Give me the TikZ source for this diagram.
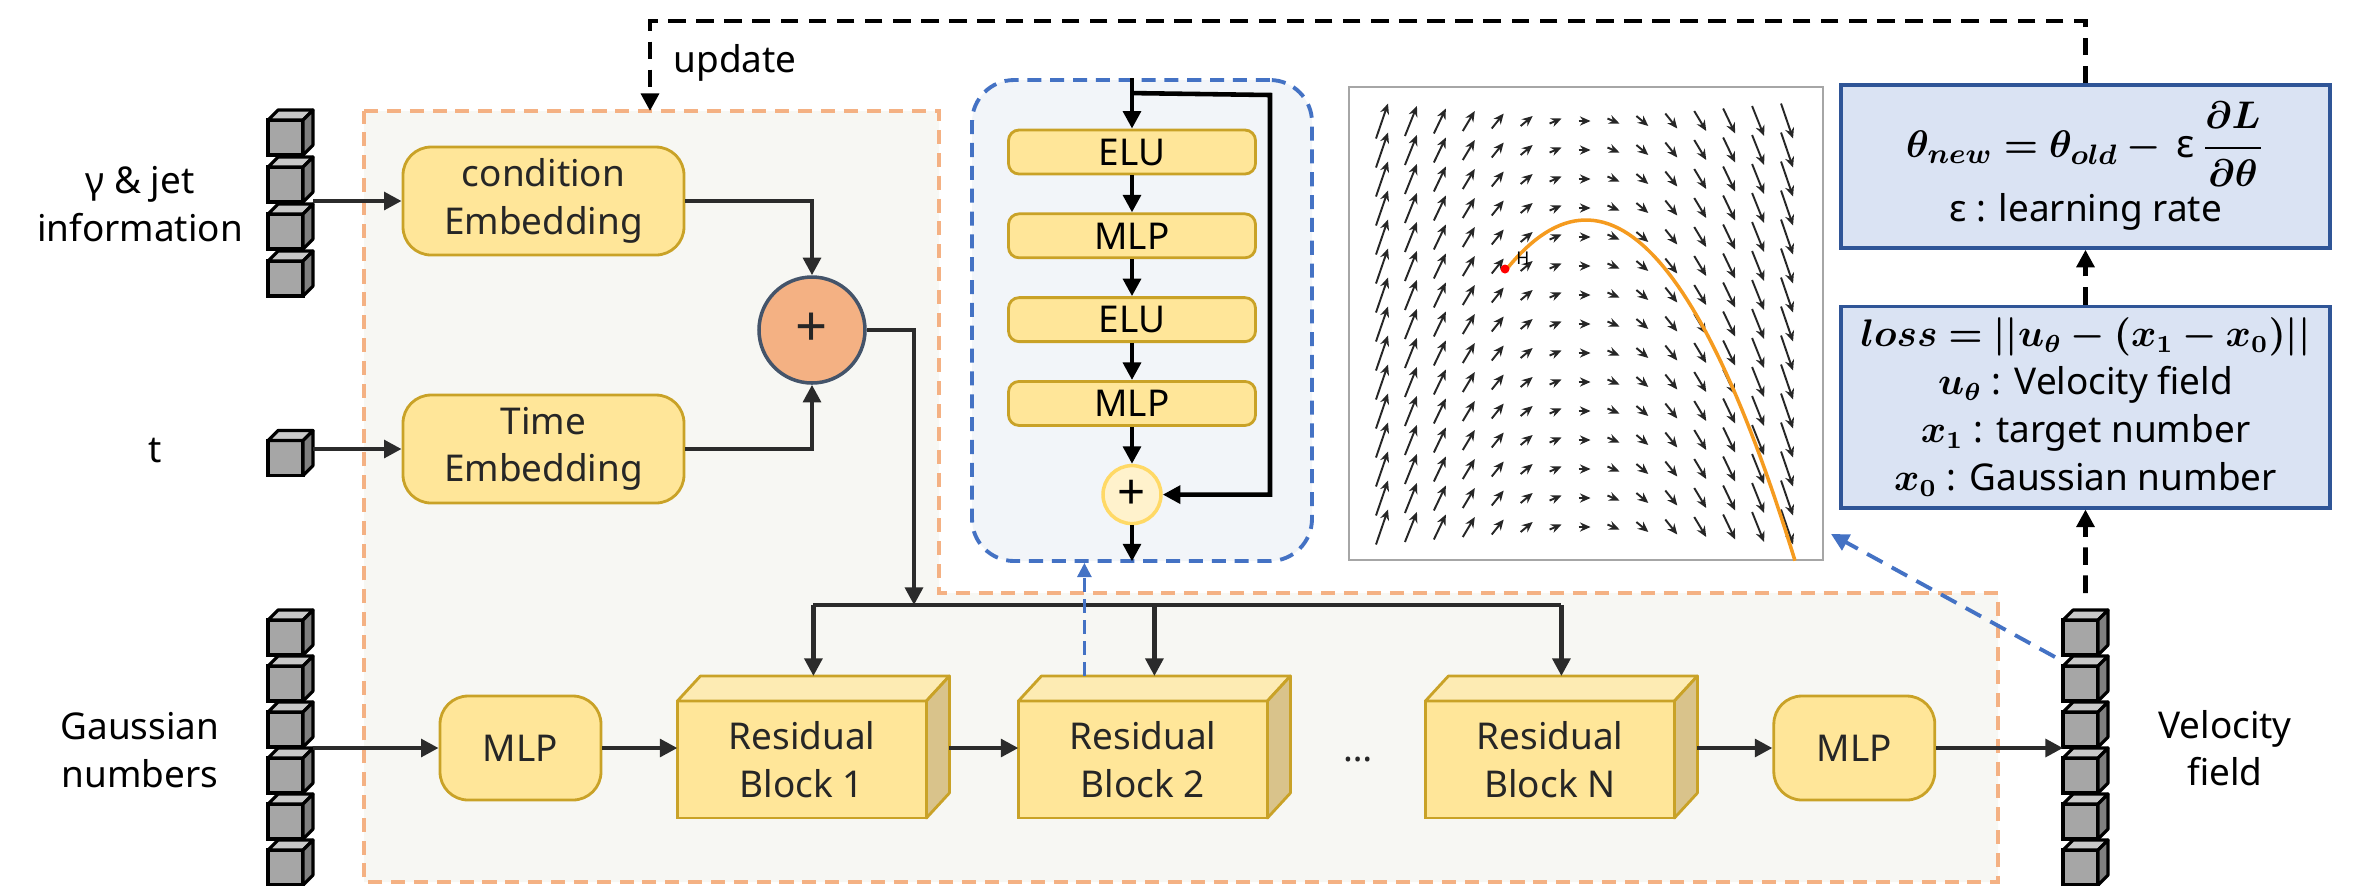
\documentclass[tikz,border=0pt]{standalone}
\usepackage{fontspec}
\setmainfont{Noto Sans}
\usepackage{amsmath,bm}
\usetikzlibrary{arrows.meta,positioning,calc}
\definecolor{regfill}{HTML}{F7F7F3}
\definecolor{regline}{HTML}{F4B183}
\definecolor{ylwfill}{HTML}{FFE699}
\definecolor{ylwtop}{HTML}{FDEBB3}
\definecolor{ylwside}{HTML}{D9C38B}
\definecolor{ylwline}{HTML}{C9A227}
\definecolor{sumfill}{HTML}{F4B183}
\definecolor{sumline}{HTML}{44546A}
\definecolor{addfill}{HTML}{FFF2CC}
\definecolor{addline}{HTML}{FFD966}
\definecolor{resblue}{HTML}{4472C4}
\definecolor{resbg}{HTML}{F2F5F9}
\definecolor{optfill}{HTML}{DAE3F3}
\definecolor{optline}{HTML}{2F5597}
\definecolor{cubeF}{HTML}{A6A6A6}
\definecolor{cubeT}{HTML}{C9C9C9}
\definecolor{cubeS}{HTML}{808080}
\definecolor{linedark}{HTML}{2B2B2B}
\definecolor{txtdark}{HTML}{262626}
\definecolor{trajorange}{HTML}{F59B1F}
\newcommand{\dfont}{\fontsize{10.5}{13.5}\selectfont}
% lid and flank of a box-like node
\newcommand{\extrude}[5]{%
  \draw[#4] (#1.north west) -- ++(#2,#3) -- ($(#1.north east)+(#2,#3)$) -- (#1.north east) -- cycle;
  \draw[#5] (#1.north east) -- ++(#2,#3) -- ($(#1.south east)+(#2,#3)$) -- (#1.south east) -- cycle;
}
\tikzset{
  region/.style={draw=regline, fill=regfill, line width=0.9pt, dash pattern=on 4pt off 2.5pt},
  cube/.style={rectangle, draw=black, fill=cubeF, line width=0.9pt, minimum width=0.35cm,
               minimum height=0.35cm, inner sep=0pt, outer sep=0pt},
  cubelid/.style={draw=black, fill=cubeT, line width=0.9pt, line join=round},
  cubeflank/.style={draw=black, fill=cubeS, line width=0.9pt, line join=round},
  embed/.style={rectangle, rounded corners=8pt, draw=ylwline, fill=ylwfill, line width=0.8pt,
                minimum width=2.81cm, minimum height=1.08cm, align=center, font=\dfont, text=txtdark},
  mlpbox/.style={embed, minimum width=1.61cm, minimum height=1.04cm},
  resfront/.style={rectangle, draw=ylwline, fill=ylwfill, line width=0.8pt, minimum width=2.49cm,
                   minimum height=1.17cm, outer sep=0pt, align=center, font=\dfont, text=txtdark},
  reslid/.style={draw=ylwline, fill=ylwtop, line width=0.8pt, line join=round},
  resflank/.style={draw=ylwline, fill=ylwside, line width=0.8pt, line join=round},
  layer/.style={rectangle, rounded corners=3pt, draw=ylwline, fill=ylwfill, line width=0.8pt,
                minimum width=2.47cm, minimum height=0.44cm, inner sep=0pt, font=\dfont\bfseries},
  sumnode/.style={circle, draw=sumline, fill=sumfill, line width=1pt, minimum size=1.06cm,
                  inner sep=0pt, font=\fontsize{16}{16}\selectfont, text=txtdark},
  addnode/.style={circle, draw=addline, fill=addfill, line width=1pt, minimum size=0.58cm,
                  inner sep=0pt, font=\fontsize{14}{14}\selectfont\bfseries},
  mathbox/.style={rectangle, draw=optline, fill=optfill, line width=1pt, minimum width=4.89cm,
                  align=center, font=\dfont, text=black},
  lbl/.style={font=\dfont, align=center, text=black},
  arr/.style={-{Triangle[length=5pt,width=5pt]}, line width=1.2pt, draw=linedark},
  bus/.style={line width=1.2pt, draw=linedark},
  innerarr/.style={-{Triangle[length=5pt,width=5pt]}, line width=1.3pt, draw=black},
  updarr/.style={-{Triangle[length=5pt,width=5pt]}, line width=1.4pt, draw=black,
                 dash pattern=on 5pt off 3pt},
  linkarr/.style={-{Triangle[length=5pt,width=5pt]}, line width=1.1pt, draw=resblue,
                  dash pattern=on 5pt off 3pt},
  linkthin/.style={-{Triangle[length=4pt,width=4pt]}, line width=0.7pt, draw=resblue,
                   dash pattern=on 4pt off 2pt},
  quiv/.style={-{Stealth[length=3pt,width=2.6pt]}, line width=0.55pt, draw=black!85},
}
\begin{document}
\begin{tikzpicture}
  \useasboundingbox (0,0) rectangle (23.57,-8.85);
  % network region
  \draw[region] (3.64,-1.11) -- (9.39,-1.11) -- (9.39,-5.93) -- (19.98,-5.93)
    -- (19.98,-8.82) -- (3.64,-8.82) -- cycle;
  \coordinate (regtop) at (6.50,-1.11);

  % inputs
  \node[embed] (cond) at (5.435,-2.01) {condition\\Embedding};
  \node[embed] (time) at (5.435,-4.49) {Time\\Embedding};
  \node[sumnode] (sum) at (8.12,-3.30) {+};
  \node[lbl] (condlbl) at (1.40,-2.04) {γ \& jet\\information};
  \node[lbl] (tlbl) at (1.55,-4.51) {t};
  \node[lbl] (gausslbl) at (1.40,-7.50) {Gaussian\\numbers};
  \node[lbl] (vellbl) at (22.25,-7.48) {Velocity\\field};

  % main chain
  \node[mlpbox] (mlpin) at (5.205,-7.48) {MLP};
  \node[resfront, right=0.75cm of mlpin, yshift=-0.115cm] (res1) {Residual\\Block 1};
  \node[resfront, right=0.92cm of res1] (res2) {Residual\\Block 2};
  \node[resfront, right=1.58cm of res2] (resN) {Residual\\Block N};
  \node[lbl, text=txtdark] (gap) at ($(res2.east)!0.5!(resN.west)+(0.115,0)$) {\dots};
  \node[mlpbox, right=0.98cm of resN, yshift=0.115cm] (mlpout) {MLP};
  \foreach \r in {res1,res2,resN} {
    \extrude{\r}{0.23}{0.25}{reslid}{resflank}
    \coordinate (\r-top) at ($(\r.north)+(0.115,0.25)$);
  }

  % residual block detail
  \node[draw=resblue, fill=resbg, line width=1.1pt, dash pattern=on 4pt off 2.5pt,
        rounded corners=12pt, minimum width=3.40cm, minimum height=4.81cm] (resdetail) at (11.42,-3.205) {};
  \node[layer] (eluA) at (11.32,-1.52) {ELU};
  \node[layer, below=0.37cm of eluA] (mlpA) {MLP};
  \node[layer, below=0.37cm of mlpA] (eluB) {ELU};
  \node[layer, below=0.37cm of eluB] (mlpB) {MLP};
  \node[addnode, below=0.37cm of mlpB] (resadd) {+};
  \coordinate (skipstart) at ($(resdetail.north -| eluA)+(0,-0.15)$);
  \coordinate (skipturn) at (12.70,-0.95);
  \coordinate (resout) at ($(resadd.south)+(0,-0.36)$);
  \draw[innerarr] (resdetail.north -| eluA) -- (eluA.north);
  \draw[innerarr] (skipstart) -- (skipturn) |- (resadd.east);
  \foreach \a/\b in {eluA/mlpA, mlpA/eluB, eluB/mlpB, mlpB/resadd}
    \draw[innerarr] (\a) -- (\b);
  \draw[innerarr] (resadd.south) -- (resout);

  % flow field
  \node[draw=gray!70, fill=white, line width=0.6pt, minimum width=4.74cm,
        minimum height=4.73cm] (flowplot) at (15.86,-3.235) {};
  \begin{scope}
    \clip (flowplot.south west) rectangle (flowplot.north east);
    \foreach \i in {0,...,14}
      \foreach \j in {0,...,14} {
        \pgfmathsetmacro{\vy}{-0.05*(\i-7)}
        \draw[quiv] ({13.82+0.2893*\i-0.06},{-1.21-0.29*\j-\vy/2}) -- ++(0.12,\vy);
      }
    \draw[trajorange, line width=1pt, domain=15.06:17.95, samples=60]
      plot (\x,{-2.20-0.78*(\x-15.86)*(\x-15.86)});
  \end{scope}
  \fill[red] (15.05,-2.69) circle (0.045);
  \node[font=\fontsize{5}{5}\selectfont, inner sep=0pt] (hmark) at (15.23,-2.58) {H};

  % loss and update
  \node[mathbox, minimum height=1.63cm] (optbox) at (20.855,-1.665)
    {\fontsize{11}{12}\selectfont$\bm{\theta_{new} = \theta_{old} -}\,\text{ε}\,\bm{\dfrac{\partial L}{\partial \theta}}$\\[1pt]
     ε : learning rate};
  \node[mathbox, minimum height=1.94cm, font=\fontsize{10.5}{13.6}\selectfont] (lossbox) at (20.855,-4.07)
    {{\fontsize{10.5}{12}\selectfont$\bm{loss = ||u_\theta - (x_1 - x_0)||}$}\\
     $\bm{u_\theta}$ : Velocity field\\
     $\bm{x_1}$ : target number\\
     $\bm{x_0}$ : Gaussian number};

  % connections
  \draw[arr] (cond.east) -| (sum.north);
  \draw[arr] (time.east) -| (sum.south);
  \coordinate (busjoin) at (9.14,-6.05);
  \draw[arr] (sum.east) -| (busjoin);
  \draw[bus] (res1-top |- busjoin) -- (resN-top |- busjoin);
  \foreach \r in {res1,res2,resN}
    \draw[arr] (\r-top |- busjoin) -- (\r-top);
  \draw[arr] (mlpin) -- (mlpin.east -| res1.west);
  \draw[arr] (mlpin.east -| res1.east) ++(0.23,0) -- (mlpin.east -| res2.west);
  \draw[arr] (mlpout.west -| resN.east) ++(0.23,0) -- (mlpout.west);

  % data columns
  \foreach \i in {0,...,3} {
    \node[cube] (c\i) at (2.855,{-1.375-0.47*\i}) {};
    \extrude{c\i}{0.10}{0.10}{cubelid}{cubeflank}
  }
  \node[cube] (tc) at (2.855,-4.58) {};
  \extrude{tc}{0.10}{0.10}{cubelid}{cubeflank}
  \foreach \i in {0,...,5} {
    \node[cube] (g\i) at (2.855,{-6.375-0.46*\i}) {};
    \extrude{g\i}{0.10}{0.10}{cubelid}{cubeflank}
    \node[cube] (v\i) at (20.805,{-6.375-0.46*\i}) {};
    \extrude{v\i}{0.10}{0.10}{cubelid}{cubeflank}
  }
  \draw[arr] (cond.west -| c1.east) ++(0.10,0) -- (cond.west);
  \draw[arr] (time.west -| tc.east) ++(0.10,0) -- (time.west);
  \draw[arr] (mlpin.west -| g2.east) ++(0.10,0) -- (mlpin.west);
  \draw[arr] (mlpout.east) -- (mlpout.east -| v0.west);

  % training loop
  \coordinate (velout) at ($(v0.north)+(0.05,0.27)$);
  \coordinate (updturn) at (6.50,-0.21);
  \draw[updarr] (velout) -- (lossbox.south);
  \draw[updarr] (lossbox) -- (optbox);
  \draw[updarr] (optbox.north) |- (updturn) -- (regtop);
  \node[lbl, anchor=west, inner sep=0pt] (updlbl) at (6.73,-0.63) {update};

  % links to detail views
  \coordinate (r2link) at ($(res2.north west)+(0.66,0.25)$);
  \draw[linkthin] (r2link) -- (r2link |- resdetail.south);
  \coordinate (vlink) at ($(v0.south west)+(-0.08,-0.02)$);
  \coordinate (plotlink) at ($(flowplot.south east)+(0.07,0.27)$);
  \draw[linkarr] (vlink) -- (plotlink);
\end{tikzpicture}
\end{document}
